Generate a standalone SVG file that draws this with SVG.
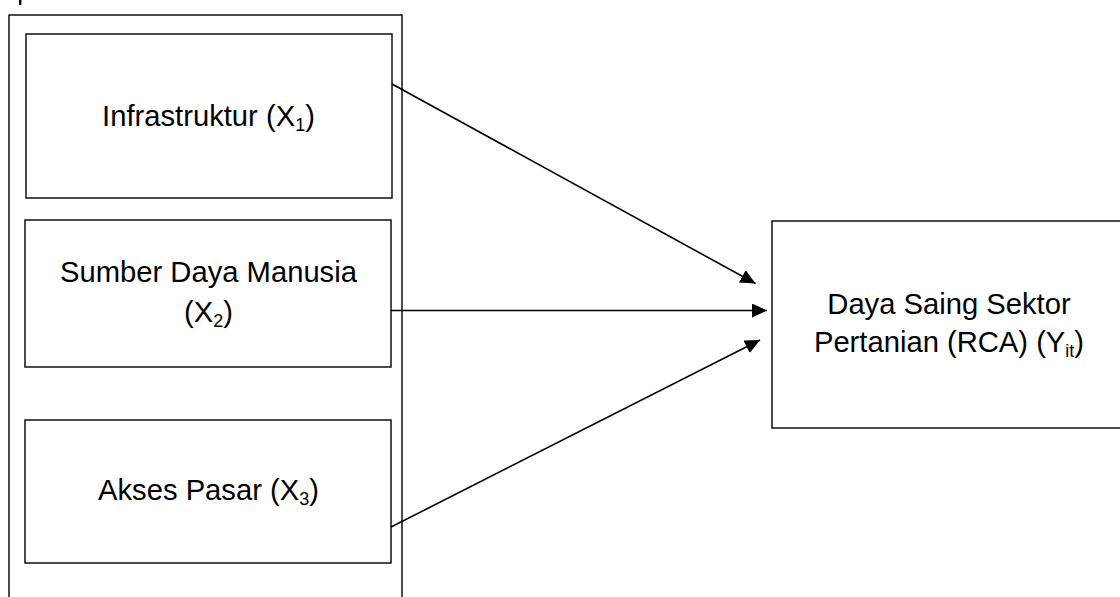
<svg xmlns="http://www.w3.org/2000/svg" width="1120" height="597" viewBox="0 0 1120 597">
<style>
.box{fill:#fff;stroke:#000;stroke-width:1.4}
.lbl{font-family:"Liberation Sans",Arial,sans-serif;font-size:29.2px;fill:#000;text-anchor:middle}
.sub{font-size:18px}
.con{stroke:#000;stroke-width:1.6;fill:none}
</style>
<defs>
<marker id="ah" markerUnits="userSpaceOnUse" markerWidth="16" markerHeight="14" refX="15" refY="7" orient="auto">
<path d="M0,0 L15,7 L0,14 z" fill="#000"/>
</marker>
</defs>
<rect x="0" y="0" width="1120" height="597" fill="#fff"/>
<rect x="19" y="0" width="2.4" height="5" fill="#000"/>
<g id="frame">
<rect class="box" x="9" y="15" width="393" height="600"/>
</g>
<g id="x1">
<rect class="box" x="26" y="34" width="366" height="164"/>
<text class="lbl" x="208.5" y="126">Infrastruktur (X<tspan class="sub" dy="5">1</tspan><tspan dy="-5">)</tspan></text>
</g>
<g id="x2">
<rect class="box" x="25" y="220" width="366" height="147"/>
<text class="lbl" x="208.5" y="282">Sumber Daya Manusia</text>
<text class="lbl" x="208.5" y="322">(X<tspan class="sub" dy="5">2</tspan><tspan dy="-5">)</tspan></text>
</g>
<g id="x3">
<rect class="box" x="25" y="420" width="366" height="143"/>
<text class="lbl" x="208.5" y="500">Akses Pasar (X<tspan class="sub" dy="5">3</tspan><tspan dy="-5">)</tspan></text>
</g>
<g id="y">
<rect class="box" x="772" y="221" width="360" height="207"/>
<text class="lbl" x="949" y="313.5">Daya Saing Sektor</text>
<text class="lbl" x="949" y="352">Pertanian (RCA) (Y<tspan class="sub" dy="5">it</tspan><tspan dy="-5">)</tspan></text>
</g>
<g id="connectors">
<line class="con" x1="392" y1="84" x2="755.5" y2="283.5" marker-end="url(#ah)"/>
<line class="con" x1="391" y1="310.5" x2="767" y2="310.5" marker-end="url(#ah)"/>
<line class="con" x1="391" y1="527" x2="760" y2="340" marker-end="url(#ah)"/>
</g>
</svg>
